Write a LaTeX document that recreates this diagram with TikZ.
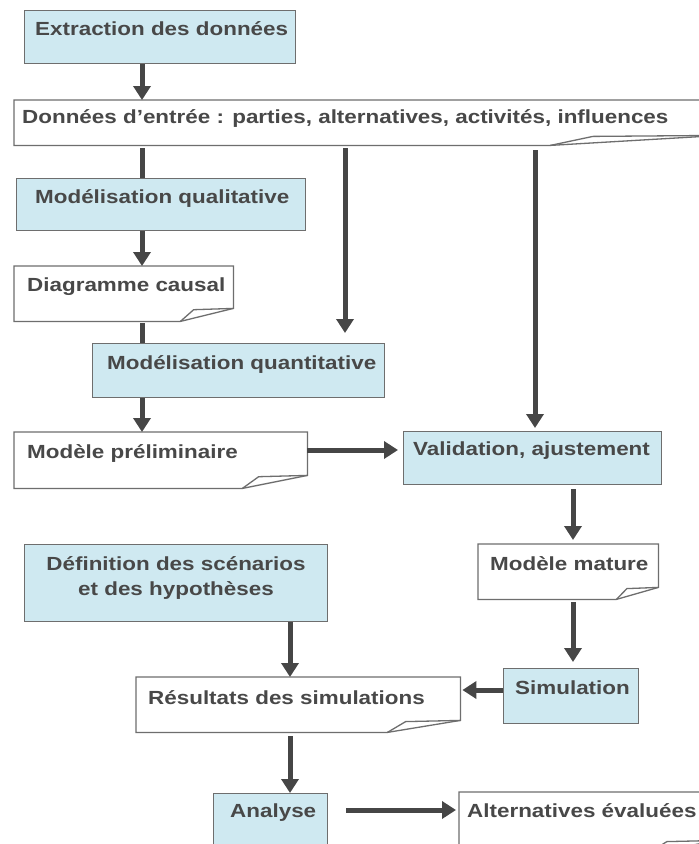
\documentclass[tikz,border=0pt]{standalone}
\usepackage{fontspec}
\setmainfont{Liberation Sans}[FakeStretch=1.18]
\usetikzlibrary{arrows.meta}
\definecolor{boxblue}{RGB}{207,233,241}
\definecolor{edge}{RGB}{110,110,110}
\definecolor{ink}{RGB}{72,72,72}
\definecolor{arrowc}{RGB}{70,70,70}
\tikzset{
 bbox/.style={draw=edge,line width=1.3pt,fill=boxblue,inner sep=0,anchor=north west},
 dbox/.style={inner sep=0,anchor=north west},
 dline/.style={draw=edge,line width=1.3pt,line join=miter},
 txt/.style={anchor=base west,inner sep=0,text=ink,font=\bfseries\fontsize{19}{23}\selectfont},
 ctxt/.style={anchor=base,inner sep=0,text=ink,font=\bfseries\fontsize{19}{23}\selectfont},
 flow/.style={draw=arrowc,line width=5pt,-{Triangle[length=14pt,width=17pt]}},
 bar/.style={draw=arrowc,line width=5pt},
}
\newcommand\mydoc[7]{%
 \node[dbox,minimum width=#4pt,minimum height=#5pt] (#1) at (#2,#3) {};
 \draw[dline,fill=white] (#1.north west) -- (#1.north east) -- ([yshift=#7pt]#1.south east) -- ([xshift=-#6pt]#1.south east) -- (#1.south west) -- cycle;
 \draw[dline] ([xshift=-#6pt]#1.south east) -- ([xshift=-0.75*#6pt,yshift=0.9*#7pt]#1.south east) -- ([yshift=#7pt]#1.south east);
}
\begin{document}
\begin{tikzpicture}[x=1pt,y=-1pt]
\useasboundingbox (0,0) rectangle (699,844);
\fill[white] (0,0) rectangle (699,844);
\clip (0,0) rectangle (699,844);

% columns
\coordinate (cA) at (142,0);
\coordinate (cB) at (345,0);
\coordinate (cC) at (535,0);
\coordinate (cD) at (573,0);
\coordinate (cE) at (290,0);
\coordinate (rP) at (0,450);
\coordinate (rS) at (0,690);
\coordinate (rA) at (0,810);

% boxes
\node[bbox,minimum width=271pt,minimum height=53pt] (ext) at (24,10) {};
\node[txt] (ext-t) at (35,35) {Extraction des données};

\mydoc{don}{14}{100}{706}{45}{170}{10}
\node[txt] (don-t) at (22,123) {Données d'entrée : parties, alternatives, activités, influences};

\node[bbox,minimum width=289pt,minimum height=52pt] (mql) at (16,178) {};
\node[txt] (mql-t) at (35,203) {Modélisation qualitative};

\mydoc{dc}{14}{266}{219}{55}{53}{13}
\node[txt] (dc-t) at (27,291) {Diagramme causal};

\node[bbox,minimum width=292pt,minimum height=54pt] (mqt) at (92,343) {};
\node[txt] (mqt-t) at (107,369) {Modélisation quantitative};

\mydoc{mp}{14}{432}{293}{56}{65}{13}
\node[txt] (mp-t) at (27,458) {Modèle préliminaire};

\node[bbox,minimum width=258pt,minimum height=53pt] (val) at (403,431) {};
\node[txt] (val-t) at (413,455) {Validation, ajustement};

\mydoc{mm}{478}{544}{180}{55}{42}{12}
\node[txt] (mm-t) at (490,570) {Modèle mature};

\node[bbox,minimum width=303pt,minimum height=77pt] (def) at (24,544) {};
\node[ctxt] (def-t1) at (176,570) {Définition des scénarios};
\node[ctxt] (def-t2) at (176,595) {et des hypothèses};

\mydoc{res}{136}{677}{324}{55}{73}{12}
\node[txt] (res-t) at (148,704) {Résultats des simulations};

\node[bbox,minimum width=135pt,minimum height=55pt] (sim) at (503,668) {};
\node[txt] (sim-t) at (515,694) {Simulation};

\node[bbox,minimum width=114pt,minimum height=70pt] (ana) at (213,793) {};
\node[txt] (ana-t) at (230,817) {Analyse};

\mydoc{alt}{459}{792}{260}{60}{70}{12}
\node[txt] (alt-t) at (467,817) {Alternatives évaluées};

% connectors
\draw[flow] (ext.south -| cA) -- (don.north -| cA);
\draw[bar] ([yshift=-3pt]don.south -| cA) -- (mql.north -| cA);
\draw[flow] (mql.south -| cA) -- (dc.north -| cA);
\draw[bar] ([yshift=-2pt]dc.south -| cA) -- (mqt.north -| cA);
\draw[flow] (mqt.south -| cA) -- (mp.north -| cA);
\draw[flow,shorten >=10pt] ([yshift=-3pt]don.south -| cB) -- (mqt.north -| cB);
\draw[flow,shorten >=3pt] ([yshift=-5pt]don.south -| cC) -- (val.north -| cC);
\draw[flow,shorten >=5pt] (mp.east |- rP) -- (val.west |- rP);
\draw[flow,shorten <=4pt,shorten >=4pt] (val.south -| cD) -- (mm.north -| cD);
\draw[flow,shorten <=3pt,shorten >=6pt] (mm.south -| cD) -- (sim.north -| cD);
\draw[flow,shorten >=2pt] (sim.west |- rS) -- (res.east |- rS);
\draw[flow] (def.south -| cE) -- (res.north -| cE);
\draw[flow,shorten <=4pt] (res.south -| cE) -- (ana.north -| cE);
\draw[flow,shorten <=18pt,shorten >=3pt] (ana.east |- rA) -- (alt.west |- rA);
\end{tikzpicture}
\end{document}
